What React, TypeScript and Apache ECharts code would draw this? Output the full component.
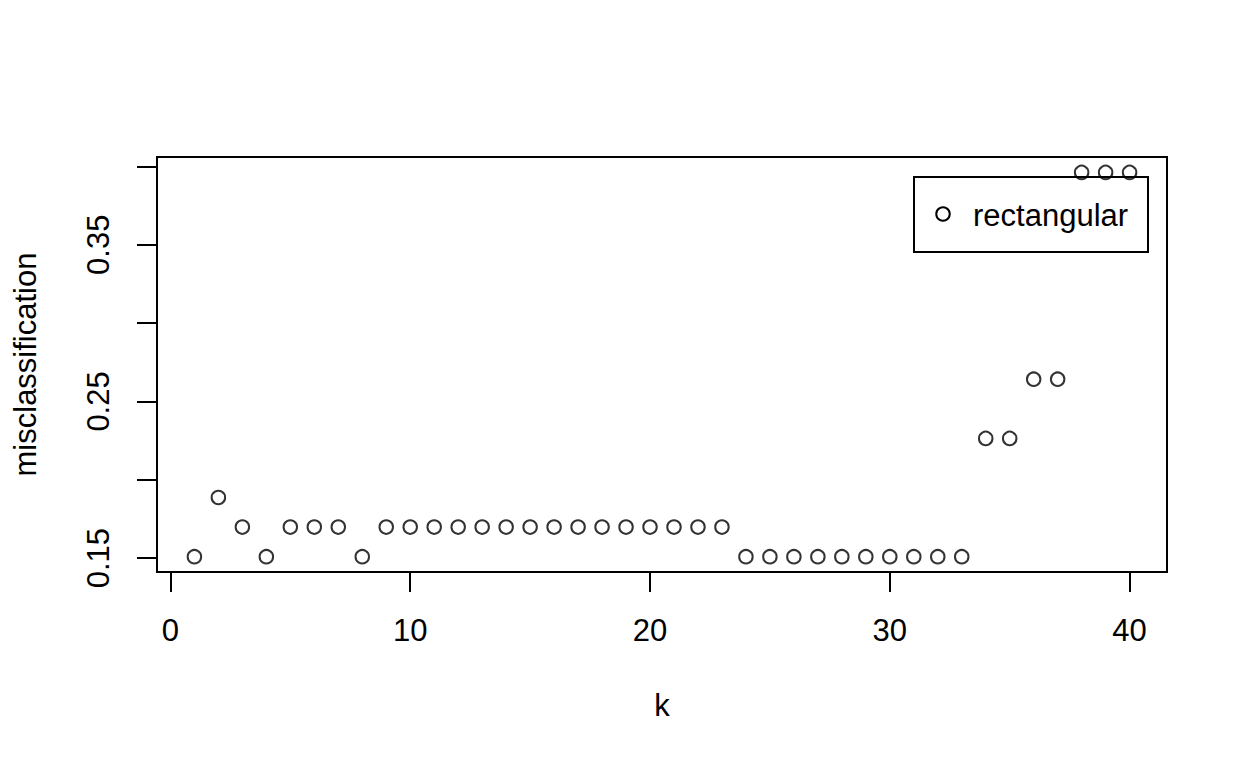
import React, { useEffect, useRef } from "react";
import * as echarts from "echarts";

const kValues = [1, 2, 3, 4, 5, 6, 7, 8, 9, 10, 11, 12, 13, 14, 15, 16, 17, 18, 19, 20,
  21, 22, 23, 24, 25, 26, 27, 28, 29, 30, 31, 32, 33, 34, 35, 36, 37, 38, 39, 40];
const misclassification = [
  0.1509, 0.1887, 0.1698, 0.1509, 0.1698, 0.1698, 0.1698, 0.1509, 0.1698, 0.1698,
  0.1698, 0.1698, 0.1698, 0.1698, 0.1698, 0.1698, 0.1698, 0.1698, 0.1698, 0.1698,
  0.1698, 0.1698, 0.1698, 0.1509, 0.1509, 0.1509, 0.1509, 0.1509, 0.1509, 0.1509,
  0.1509, 0.1509, 0.1509, 0.2264, 0.2264, 0.2642, 0.2642, 0.3962, 0.3962, 0.3962,
];
const xTicks = [0, 10, 20, 30, 40];
const yTicks = [0.15, 0.2, 0.25, 0.3, 0.35, 0.4];
const yLabels = [0.15, 0.25, 0.35];
const seriesName = "rectangular";

const FONT = "'Liberation Sans', Arial, Helvetica, sans-serif";
const FS = 31;

export default function App() {
  const ref = useRef<HTMLDivElement>(null);
  useEffect(() => {
    if (!ref.current) return;
    const chart = echarts.init(ref.current, null, { renderer: "svg" });
    chart.setOption({
      animation: false,
      backgroundColor: "#fff",
      textStyle: { fontFamily: FONT, color: "#000" },
      grid: {
        left: 157,
        top: 157,
        right: 81,
        bottom: 196,
        show: true,
        borderColor: "#000",
        borderWidth: 2,
        backgroundColor: "transparent",
      },
      xAxis: {
        type: "value",
        min: -0.56,
        max: 41.56,
        name: "k",
        nameLocation: "middle",
        nameGap: 118,
        nameTextStyle: { fontSize: FS, color: "#000", fontFamily: FONT },
        axisLine: { show: false, onZero: false },
        splitLine: { show: false },
        axisTick: {
          show: true,
          customValues: xTicks,
          length: 20,
          lineStyle: { color: "#000", width: 2 },
        },
        axisLabel: {
          customValues: xTicks,
          fontSize: FS,
          color: "#000",
          fontFamily: FONT,
          margin: 43,
        },
      },
      yAxis: {
        type: "value",
        min: 0.14113,
        max: 0.40604,
        name: "misclassification",
        nameLocation: "middle",
        nameGap: 116,
        nameTextStyle: { fontSize: FS, color: "#000", fontFamily: FONT },
        axisLine: { show: false, onZero: false },
        splitLine: { show: false },
        axisTick: {
          show: true,
          customValues: yTicks,
          length: 20,
          lineStyle: { color: "#000", width: 2 },
        },
        axisLabel: {
          customValues: yLabels,
          rotate: 90,
          fontSize: FS,
          color: "#000",
          fontFamily: FONT,
          margin: 43,
          formatter: (v: number) => v.toFixed(2),
        },
      },
      series: [
        {
          name: seriesName,
          type: "scatter",
          symbol: "circle",
          symbolSize: 13.5,
          itemStyle: { color: "rgba(0,0,0,0)", borderColor: "#000", borderWidth: 2 },
          data: kValues.map((k, i) => [k, misclassification[i]]),
        },
      ],
      graphic: [
        {
          type: "group",
          z: 100,
          children: [
            {
              type: "rect",
              shape: { x: 914, y: 177, width: 234, height: 75 },
              style: { fill: "#fff", stroke: "#000", lineWidth: 2 },
            },
            {
              type: "circle",
              shape: { cx: 943, cy: 214, r: 6.75 },
              style: { fill: "none", stroke: "#000", lineWidth: 2 },
            },
            {
              type: "text",
              x: 973,
              y: 215,
              style: {
                text: seriesName,
                fontSize: FS,
                fontFamily: FONT,
                fill: "#000",
                verticalAlign: "middle",
                align: "left",
              },
            },
          ],
        },
      ],
    });
    return () => chart.dispose();
  }, []);
  return (
    <div
      ref={ref}
      style={{ position: "fixed", left: 0, top: 0, width: 1248, height: 768 }}
    />
  );
}
